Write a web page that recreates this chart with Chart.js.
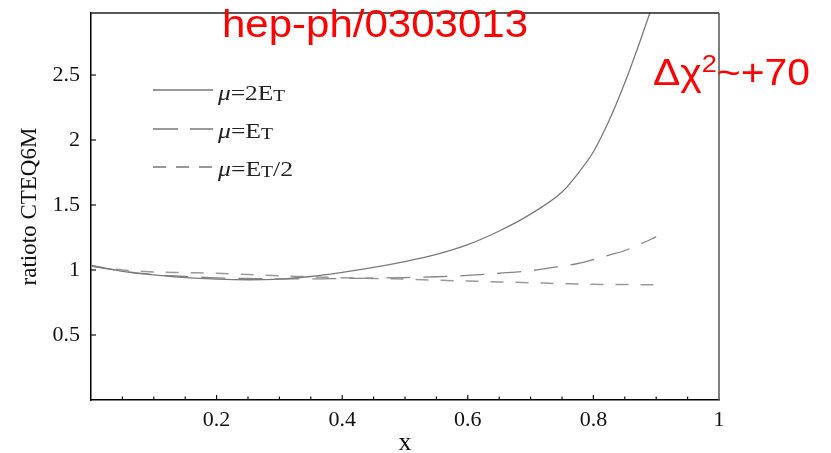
<!DOCTYPE html>
<html><head><meta charset="utf-8">
<script src="https://cdn.jsdelivr.net/npm/chart.js@4/dist/chart.umd.min.js"></script>
<style>html,body{margin:0;padding:0;background:#fff;}#wrap{position:relative;width:831px;height:453px;}</style>
</head><body><div id="wrap"><canvas id="c" width="831" height="453"></canvas></div>
<script>
// ---- data ----
const xValues    = [0, 0.05, 0.1, 0.15, 0.2, 0.25, 0.3, 0.35, 0.4, 0.45, 0.5, 0.55, 0.6, 0.65, 0.7, 0.75, 0.775, 0.8, 0.825, 0.85, 0.875, 0.9];
const ratioMu2ET = [1.035, 0.99, 0.962, 0.942, 0.93, 0.925, 0.93, 0.95, 0.982, 1.02, 1.065, 1.12, 1.195, 1.3, 1.43, 1.6, 1.74, 1.91, 2.15, 2.44, 2.77, 3.12];
const ratioMuET  = [1.03, 0.99, 0.965, 0.95, 0.94, 0.935, 0.932, 0.932, 0.935, 0.938, 0.942, 0.948, 0.958, 0.975, 0.995, 1.03, 1.05, 1.08, 1.115, 1.15, 1.2, 1.255];
const ratioMuET2 = [1.03, 1.0, 0.985, 0.98, 0.975, 0.965, 0.955, 0.948, 0.94, 0.935, 0.93, 0.922, 0.915, 0.908, 0.902, 0.895, 0.893, 0.89, 0.889, 0.888, 0.887, 0.886];
const seriesLabels = ['μ=2E_T', 'μ=E_T', 'μ=E_T/2'];
const xTickValues = [0.2, 0.4, 0.6, 0.8, 1];
const yTickValues = [0.5, 1, 1.5, 2, 2.5];
const xTitle = 'x';
const yTitle = 'ratioto CTEQ6M';
const paperLabel = 'hep-ph/0303013';
const chiLabel = ['Δχ', '2', '~+70'];

const toPts = ys => xValues.map((x, i) => ({x: x, y: ys[i]}));
const has = (arr, v) => arr.some(t => Math.abs(t - v) < 1e-6);

function drawRuns(ctx, runs, x, baseline, targetWidth) {
  let total = 0;
  runs.forEach(r => { ctx.font = r.font; r.w = ctx.measureText(r.text).width; total += r.w; });
  const sx = targetWidth ? targetWidth / total : 1;
  ctx.save(); ctx.translate(x, baseline); ctx.scale(sx, 1);
  ctx.textBaseline = 'alphabetic'; ctx.textAlign = 'left';
  let cx = 0;
  runs.forEach(r => { ctx.font = r.font; ctx.fillText(r.text, cx, r.dy || 0); cx += r.w; });
  ctx.restore();
}
function labelRuns(label) {
  const serif = "'Liberation Serif', 'Times New Roman', serif";
  const runs = [];
  let s = label;
  if (s.startsWith('μ')) { runs.push({text: 'μ', font: 'italic 21px ' + serif}); s = s.slice(1); }
  const i = s.indexOf('_');
  if (i >= 0) {
    runs.push({text: s.slice(0, i), font: '21px ' + serif});
    runs.push({text: s.charAt(i + 1), font: '16px ' + serif, dy: 1});
    const rest = s.slice(i + 2);
    if (rest) runs.push({text: rest, font: '21px ' + serif});
  } else runs.push({text: s, font: '21px ' + serif});
  return runs;
}

const decor = {
  id: 'decor',
  afterDraw(chart) {
    const ctx = chart.ctx, a = chart.chartArea;
    const xs = chart.scales.x, ys = chart.scales.y;
    ctx.save();
    // frame top / right
    ctx.lineWidth = 1.5;
    ctx.strokeStyle = '#222';
    ctx.beginPath(); ctx.moveTo(a.left, a.top); ctx.lineTo(a.right, a.top); ctx.stroke();
    ctx.strokeStyle = '#555';
    ctx.beginPath(); ctx.moveTo(a.right, a.top); ctx.lineTo(a.right, a.bottom); ctx.stroke();
    // inward ticks
    ctx.strokeStyle = '#111'; ctx.lineWidth = 1.2;
    xs.ticks.forEach(t => {
      if (t.value <= 0 || t.value >= 1) return;
      const px = xs.getPixelForValue(t.value);
      const len = has(xTickValues, t.value) ? 5 : 3.5;
      ctx.beginPath(); ctx.moveTo(px, a.bottom); ctx.lineTo(px, a.bottom - len); ctx.stroke();
    });
    yTickValues.forEach(v => {
      const py = ys.getPixelForValue(v);
      ctx.beginPath(); ctx.moveTo(a.left, py); ctx.lineTo(a.left + 5, py); ctx.stroke();
    });
    // legend
    const lx0 = 153, lx1 = 213;
    const rows = [{y: 90, tb: 100, w: 67}, {y: 129, tb: 138, w: 55}, {y: 167, tb: 176, w: 75}];
    chart.data.datasets.forEach((ds, k) => {
      const r = rows[k];
      ctx.strokeStyle = '#333'; ctx.lineWidth = 1;
      ctx.setLineDash(ds.legendDash || []);
      ctx.beginPath(); ctx.moveTo(lx0, r.y); ctx.lineTo(lx1, r.y); ctx.stroke();
      ctx.setLineDash([]);
      ctx.fillStyle = '#222';
      drawRuns(ctx, labelRuns(ds.label), 218, r.tb, r.w);
    });
    // red annotations
    ctx.fillStyle = '#ff0000';
    const sans = "'Liberation Sans', Arial, sans-serif";
    drawRuns(ctx, [{text: paperLabel, font: '38px ' + sans}], 222, 37, 306);
    drawRuns(ctx, [
      {text: chiLabel[0], font: '36px ' + sans},
      {text: chiLabel[1], font: '24px ' + sans, dy: -13},
      {text: chiLabel[2], font: '36px ' + sans}
    ], 653, 85, 157);
    ctx.restore();
  }
};

const serifFont = (size, lh) => ({family: "'Liberation Serif', 'Times New Roman', serif", size: size, lineHeight: lh || 1.2});

new Chart(document.getElementById('c'), {
  type: 'line',
  data: {
    datasets: [
      {label: seriesLabels[0], data: toPts(ratioMu2ET), borderColor: '#7a7a7a', borderWidth: 1.3, borderDash: [], legendDash: []},
      {label: seriesLabels[1], data: toPts(ratioMuET), borderColor: '#858585', borderWidth: 1.3, borderDash: [24, 13], legendDash: [25, 12]},
      {label: seriesLabels[2], data: toPts(ratioMuET2), borderColor: '#9a9a9a', borderWidth: 1.5, borderDash: [13, 12], legendDash: [13, 10]}
    ]
  },
  options: {
    responsive: false, animation: false, devicePixelRatio: 1,
    elements: {point: {radius: 0}, line: {cubicInterpolationMode: 'monotone', fill: false}},
    layout: {padding: {left: 0, right: 112, top: 13, bottom: 0}},
    plugins: {legend: {display: false}, tooltip: {enabled: false}, title: {display: false}},
    scales: {
      x: {
        type: 'linear', min: 0, max: 1,
        afterFit: s => { s.height = 53; s.paddingLeft = 0; s.paddingRight = 0; },
        grid: {drawOnChartArea: false, drawTicks: false},
        border: {color: '#000', width: 1.5},
        ticks: {stepSize: 0.05, autoSkip: false, maxRotation: 0, padding: 7, color: '#111', font: serifFont(22),
          callback: v => has(xTickValues, v) ? String(xTickValues.find(t => Math.abs(t - v) < 1e-6)) : ''},
        title: {display: true, text: xTitle, color: '#111', font: serifFont(26, 1), padding: {top: 0, bottom: -3}}
      },
      y: {
        type: 'linear', min: 0, max: 2.977,
        afterFit: s => { s.width = 91; s.paddingTop = 0; s.paddingBottom = 0; },
        grid: {drawOnChartArea: false, drawTicks: false},
        border: {color: '#000', width: 1.5},
        ticks: {stepSize: 0.5, includeBounds: false, padding: 11, color: '#111', font: serifFont(22),
          callback: v => has(yTickValues, v) ? String(yTickValues.find(t => Math.abs(t - v) < 1e-6)) : ''},
        title: {display: true, text: yTitle, color: '#111', font: serifFont(23), padding: {top: 16, bottom: 0}}
      }
    }
  },
  plugins: [decor]
});
</script></body></html>
